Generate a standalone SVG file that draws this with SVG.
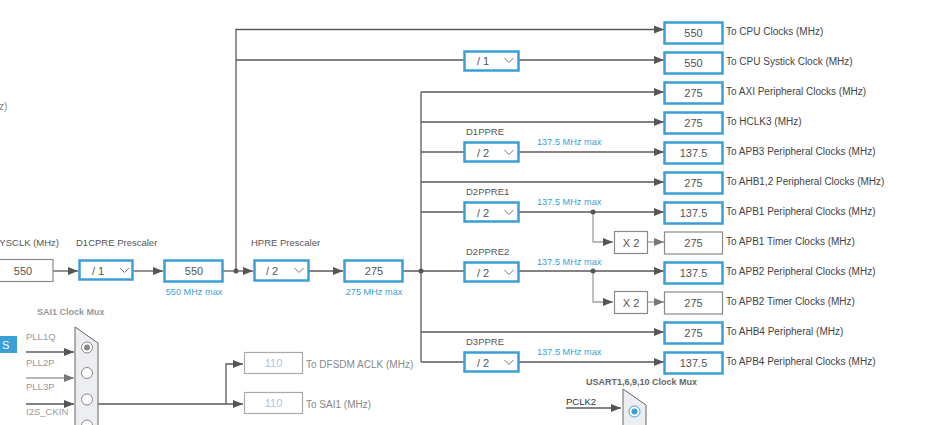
<svg xmlns="http://www.w3.org/2000/svg" width="933" height="425" viewBox="0 0 933 425">
<style>
text{font-family:"Liberation Sans",Arial,sans-serif}
.ln{fill:none;stroke:#5a5a5a;stroke-width:1.3}
.ll{fill:none;stroke:#a0a0a0;stroke-width:1.3}
.bx{fill:#fff;stroke:#3a9fd6;stroke-width:2.5}
.gx{fill:#fff;stroke:#8a8a8a;stroke-width:1.2}
.dx{fill:#fff;stroke:#aaa;stroke-width:1.2}
.val{font-size:11px;fill:#555;text-anchor:middle}
.dval{font-size:11px;fill:#a9c3da;text-anchor:middle}
.lab{font-size:10px;fill:#444}
.dlab{font-size:10px;fill:#888}
.hd{font-size:9.5px;fill:#555}
.max{font-size:9.2px;fill:#3a9fd6}
.maxc{font-size:9.2px;fill:#3a9fd6;text-anchor:middle}
.sel{font-size:11px;fill:#555}
.chev{fill:none;stroke:#777;stroke-width:1}
.mux{fill:#eceef1;stroke:#666;stroke-width:1}
.rad{fill:#fff;stroke:#888;stroke-width:1}
.mh{font-size:9px;font-weight:bold;fill:#999}
.in{font-size:9.5px;fill:#999}
.dot{fill:#555}
</style>
<defs>
<marker id="a" markerUnits="userSpaceOnUse" markerWidth="10" markerHeight="8" refX="10" refY="4" orient="auto"><path d="M0,0 L10,4 L0,8 z" fill="#555"/></marker>
<marker id="b" markerUnits="userSpaceOnUse" markerWidth="10" markerHeight="8" refX="10" refY="4" orient="auto"><path d="M0,0 L10,4 L0,8 z" fill="#777"/></marker>
</defs>

<g id="connectors">
<path class="ln" d="M53,271 H78" marker-end="url(#a)"/>
<path class="ln" d="M133,271 H163" marker-end="url(#a)"/>
<path class="ln" d="M223,271 H253" marker-end="url(#a)"/>
<path class="ln" d="M236,271 V29.5 H664" marker-end="url(#a)"/>
<path class="ln" d="M236,60 H465"/>
<path class="ln" d="M518,60 H664" marker-end="url(#a)"/>
<path class="ln" d="M309,271 H343" marker-end="url(#a)"/>
<path class="ln" d="M403,271 H465"/>
<path class="ln" d="M421,362 V92"/>
<path class="ln" d="M421,92 H664" marker-end="url(#a)"/>
<path class="ln" d="M421,122 H664" marker-end="url(#a)"/>
<path class="ln" d="M421,152 H465"/>
<path class="ln" d="M518,152 H664" marker-end="url(#a)"/>
<path class="ln" d="M421,182 H664" marker-end="url(#a)"/>
<path class="ln" d="M421,212 H465"/>
<path class="ln" d="M518,212 H664" marker-end="url(#a)"/>
<path class="ll" d="M593,212 V242 H613" marker-end="url(#a)"/>
<path class="ll" d="M648,242 H664" marker-end="url(#b)"/>
<path class="ln" d="M518,271 H664" marker-end="url(#a)"/>
<path class="ll" d="M593,271 V302 H613" marker-end="url(#a)"/>
<path class="ll" d="M648,302 H664" marker-end="url(#b)"/>
<path class="ln" d="M421,332 H664" marker-end="url(#a)"/>
<path class="ln" d="M421,362 H465"/>
<path class="ln" d="M518,362 H664" marker-end="url(#a)"/>
<circle class="dot" cx="236" cy="271" r="2.5"/>
<circle class="dot" cx="421" cy="271" r="2.5"/>
<circle class="dot" cx="593" cy="212" r="2.5"/>
<circle class="dot" cx="593" cy="271" r="2.5"/>
<path class="ln" d="M26,352 H74" marker-end="url(#a)"/>
<path class="ll" d="M26,378 H74" marker-end="url(#b)"/>
<path class="ln" d="M26,404 H74" marker-end="url(#a)"/>
<path class="ln" d="M26,430 H74" marker-end="url(#a)"/>
<path class="ln" d="M98,404 H243" marker-end="url(#a)"/>
<path class="ln" d="M226,404 V364 H243" marker-end="url(#a)"/>
<path class="ln" d="M566,408 H621" marker-end="url(#a)"/>
</g>

<g id="left-labels">
<text class="dlab" x="-1" y="110">z)</text>
<text class="hd" x="59" y="245.5" text-anchor="end">SYSCLK (MHz)</text>
<text class="hd" x="76" y="245.5">D1CPRE Prescaler</text>
<text class="hd" x="251" y="245.5">HPRE Prescaler</text>
</g>

<g id="sysclk"><rect class="gx" x="-6" y="259.5" width="59" height="22"/><text class="val" x="23" y="275">550</text></g>
<g id="d1cpre"><rect class="bx" x="79.5" y="260.5" width="53" height="19"/><text class="sel" x="92" y="275">/ 1</text><polyline class="chev" points="120,268 124.5,272.5 129,268"/></g>
<g id="cpuclk"><rect class="bx" x="164.5" y="260.5" width="58" height="21"/><text class="val" x="194" y="275">550</text><text class="maxc" x="194" y="295">550 MHz max</text></g>
<g id="hpre"><rect class="bx" x="254.5" y="260.5" width="54" height="20"/><text class="sel" x="266" y="275">/ 2</text><polyline class="chev" points="294.5,268 299,272.5 303.5,268"/></g>
<g id="hclk"><rect class="bx" x="344.5" y="260.5" width="58" height="21"/><text class="val" x="374" y="275">275</text><text class="maxc" x="374" y="295">275 MHz max</text></g>

<g id="systick-div"><rect class="bx" x="464.5" y="51.5" width="54" height="19"/><text class="sel" x="477" y="65">/ 1</text><polyline class="chev" points="504.5,58 509,62.5 513.5,58"/></g>
<g id="d1ppre"><text class="hd" x="466" y="135">D1PPRE</text><text class="max" x="537" y="145">137.5 MHz max</text><rect class="bx" x="464.5" y="142.5" width="54" height="19"/><text class="sel" x="477" y="156.5">/ 2</text><polyline class="chev" points="504.5,150 509,154.5 513.5,150"/></g>
<g id="d2ppre1"><text class="hd" x="466" y="195">D2PPRE1</text><text class="max" x="537" y="205">137.5 MHz max</text><rect class="bx" x="464.5" y="202.5" width="54" height="19"/><text class="sel" x="477" y="216.5">/ 2</text><polyline class="chev" points="504.5,210 509,214.5 513.5,210"/></g>
<g id="d2ppre2"><text class="hd" x="466" y="255">D2PPRE2</text><text class="max" x="537" y="265">137.5 MHz max</text><rect class="bx" x="464.5" y="262.5" width="54" height="19"/><text class="sel" x="477" y="276.5">/ 2</text><polyline class="chev" points="504.5,270 509,274.5 513.5,270"/></g>
<g id="d3ppre"><text class="hd" x="466" y="345">D3PPRE</text><text class="max" x="537" y="355">137.5 MHz max</text><rect class="bx" x="464.5" y="352.5" width="54" height="19"/><text class="sel" x="477" y="366.5">/ 2</text><polyline class="chev" points="504.5,360 509,364.5 513.5,360"/></g>
<g id="x2-apb1"><rect class="gx" x="614.5" y="231.5" width="33" height="22"/><text class="val" x="631" y="246.5">X 2</text></g>
<g id="x2-apb2"><rect class="gx" x="614.5" y="291.5" width="33" height="22"/><text class="val" x="631" y="306.5">X 2</text></g>

<g id="out-cpu"><rect class="bx" x="664.5" y="22.5" width="58" height="21"/><text class="val" x="693.5" y="37">550</text><text class="lab" x="726" y="35">To CPU Clocks (MHz)</text></g>
<g id="out-systick"><rect class="bx" x="664.5" y="52.5" width="58" height="21"/><text class="val" x="693.5" y="67">550</text><text class="lab" x="726" y="65">To CPU Systick Clock (MHz)</text></g>
<g id="out-axi"><rect class="bx" x="664.5" y="82.5" width="58" height="21"/><text class="val" x="693.5" y="97">275</text><text class="lab" x="726" y="95">To AXI Peripheral Clocks (MHz)</text></g>
<g id="out-hclk3"><rect class="bx" x="664.5" y="112.5" width="58" height="21"/><text class="val" x="693.5" y="127">275</text><text class="lab" x="726" y="125">To HCLK3 (MHz)</text></g>
<g id="out-apb3"><rect class="bx" x="664.5" y="142.5" width="58" height="21"/><text class="val" x="693.5" y="157">137.5</text><text class="lab" x="726" y="155">To APB3 Peripheral Clocks (MHz)</text></g>
<g id="out-ahb12"><rect class="bx" x="664.5" y="172.5" width="58" height="21"/><text class="val" x="693.5" y="187">275</text><text class="lab" x="726" y="185">To AHB1,2 Peripheral Clocks (MHz)</text></g>
<g id="out-apb1"><rect class="bx" x="664.5" y="202.5" width="58" height="21"/><text class="val" x="693.5" y="217">137.5</text><text class="lab" x="726" y="215">To APB1 Peripheral Clocks (MHz)</text></g>
<g id="out-apb1tim"><rect class="gx" x="664.5" y="232" width="58" height="22"/><text class="val" x="693.5" y="247">275</text><text class="lab" x="726" y="245">To APB1 Timer Clocks (MHz)</text></g>
<g id="out-apb2"><rect class="bx" x="664.5" y="262.5" width="58" height="21"/><text class="val" x="693.5" y="277">137.5</text><text class="lab" x="726" y="275">To APB2 Peripheral Clocks (MHz)</text></g>
<g id="out-apb2tim"><rect class="gx" x="664.5" y="292" width="58" height="22"/><text class="val" x="693.5" y="307">275</text><text class="lab" x="726" y="305">To APB2 Timer Clocks (MHz)</text></g>
<g id="out-ahb4"><rect class="bx" x="664.5" y="322.5" width="58" height="21"/><text class="val" x="693.5" y="337">275</text><text class="lab" x="726" y="335">To AHB4 Peripheral (MHz)</text></g>
<g id="out-apb4"><rect class="bx" x="664.5" y="352.5" width="58" height="21"/><text class="val" x="693.5" y="367">137.5</text><text class="lab" x="726" y="365">To APB4 Peripheral Clocks (MHz)</text></g>

<g id="sai1-mux">
<rect x="-5" y="336" width="22" height="17" fill="#3a9fd6"/><text x="2" y="349" font-size="11" fill="#fff">S</text>
<text class="mh" x="37" y="315">SAI1 Clock Mux</text>
<text class="in" x="26" y="340">PLL1Q</text>
<text class="in" x="26" y="366">PLL2P</text>
<text class="in" x="26" y="390">PLL3P</text>
<text class="in" x="26" y="415">I2S_CKIN</text>
<polygon class="mux" points="75,327 98,343 98,432 75,432"/>
<circle class="rad" cx="87" cy="347.5" r="5.5"/><circle cx="87" cy="347.5" r="3" fill="#888"/>
<circle class="rad" cx="87" cy="373" r="5.5"/>
<circle class="rad" cx="87" cy="399.5" r="5.5"/>
<circle class="rad" cx="87" cy="425.5" r="5.5"/>
</g>
<g id="dfsdm"><rect class="dx" x="244.5" y="352.5" width="58" height="21"/><text class="dval" x="273.5" y="367">110</text><text class="dlab" x="306" y="367.5">To DFSDM ACLK (MHz)</text></g>
<g id="sai1"><rect class="dx" x="244.5" y="392.5" width="58" height="21"/><text class="dval" x="273.5" y="407">110</text><text class="dlab" x="306" y="407.5">To SAI1 (MHz)</text></g>

<g id="usart-mux">
<text x="586" y="385" font-size="9px" font-weight="bold" fill="#666">USART1,6,9,10 Clock Mux</text>
<text x="566" y="405" font-size="9.5px" fill="#333">PCLK2</text>
<text x="566" y="431" font-size="9.5px" fill="#333">PLL2Q</text>
<polygon class="mux" points="623,389 646,405 646,432 623,432"/>
<circle cx="634.5" cy="411.5" r="5.5" fill="#fff" stroke="#3a9fd6" stroke-width="1"/><circle cx="634.5" cy="411.5" r="3" fill="#3a9fd6"/>
</g>
</svg>
